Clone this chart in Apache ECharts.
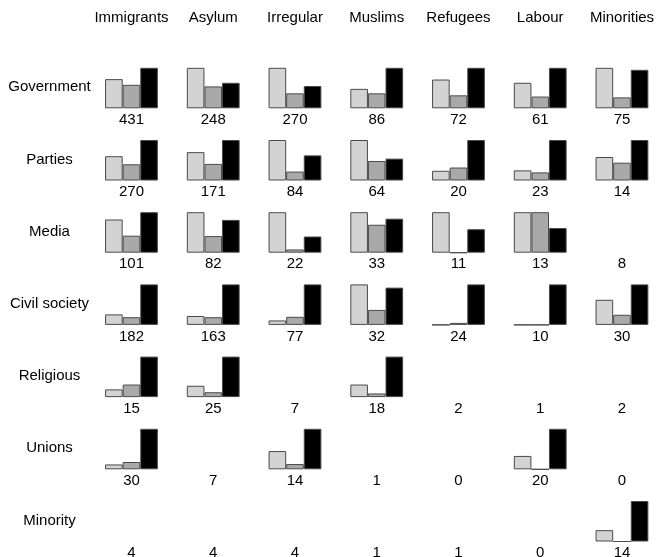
<!DOCTYPE html>
<html>
<head>
<meta charset="utf-8">
<script src="https://cdn.jsdelivr.net/npm/echarts@6/dist/echarts.min.js"></script>
<style>
html,body{margin:0;padding:0;background:#fff;}
#chart{width:658px;height:557px;}
</style>
</head>
<body>
<div id="chart"></div>
<script>
// Column topics and row actors
const topics = ['Immigrants', 'Asylum', 'Irregular', 'Muslims', 'Refugees', 'Labour', 'Minorities'];
const actors = ['Government', 'Parties', 'Media', 'Civil society', 'Religious', 'Unions', 'Minority'];

// Number of items per cell (row = actor, column = topic)
const counts = [
  [431, 248, 270, 86, 72, 61, 75],
  [270, 171, 84, 64, 20, 23, 14],
  [101, 82, 22, 33, 11, 13, 8],
  [182, 163, 77, 32, 24, 10, 30],
  [15, 25, 7, 18, 2, 1, 2],
  [30, 7, 14, 1, 0, 20, 0],
  [4, 4, 4, 1, 1, 0, 14]
];

// Relative bar heights per cell (tallest bar in a cell = 1); null = not drawn
const shareLight = [
  [0.72, 1, 1, 0.48, 0.71, 0.63, 1],
  [0.60, 0.70, 1, 1, 0.24, 0.25, 0.58],
  [0.82, 1, 1, 1, 1, 1, null],
  [0.26, 0.22, 0.11, 1, 0, 0, 0.62],
  [0.19, 0.28, null, 0.31, null, null, null],
  [0.12, null, 0.45, null, null, 0.33, null],
  [null, null, null, null, null, null, 0.28]
];
const shareMid = [
  [0.58, 0.54, 0.37, 0.37, 0.32, 0.29, 0.27],
  [0.40, 0.41, 0.22, 0.48, 0.32, 0.20, 0.44],
  [0.42, 0.41, 0.08, 0.69, 0, 1, null],
  [0.19, 0.19, 0.20, 0.37, 0.05, 0, 0.25],
  [0.31, 0.12, null, 0.09, null, null, null],
  [0.18, null, 0.13, null, null, 0, null],
  [null, null, null, null, null, null, 0]
];
const shareDark = [
  [1, 0.63, 0.55, 1, 1, 1, 0.95],
  [1, 1, 0.62, 0.54, 1, 1, 1],
  [1, 0.81, 0.40, 0.84, 0.58, 0.61, null],
  [1, 1, 1, 0.92, 1, 1, 1],
  [1, 1, null, 1, null, null, null],
  [1, null, 1, null, null, 1, null],
  [null, null, null, null, null, null, 1]
];

const FONT = 'Liberation Sans';
const gridLeft = 90.6, gridWidth = 572.25;
const firstBase = 108.3, rowStep = 72.2, barArea = 40.5;

const grids = [], xAxes = [], yAxes = [], series = [], graphics = [];
const fills = ['#d3d3d3', '#a9a9a9', '#000000'];
const sets = [shareLight, shareMid, shareDark];

actors.forEach((actor, r) => {
  const base = firstBase + rowStep * r;
  grids.push({left: gridLeft, width: gridWidth, top: base - barArea, height: barArea,
              containLabel: false, outerBoundsMode: 'none'});
  xAxes.push({
    type: 'category', gridIndex: r, data: topics,
    axisLine: {show: false}, axisTick: {show: false}, splitLine: {show: false},
    axisLabel: {
      margin: 4, fontFamily: FONT, fontSize: 15, color: '#000', interval: 0,
      formatter: (v, i) => String(counts[r][i])
    }
  });
  yAxes.push({type: 'value', gridIndex: r, min: 0, max: 1, show: false});
  sets.forEach((arr, k) => {
    series.push({
      type: 'bar', xAxisIndex: r, yAxisIndex: r,
      data: arr[r], barWidth: 17.6, barGap: '0%',
      itemStyle: {color: fills[k], borderColor: '#4a4a4a', borderWidth: 1},
      silent: true, animation: false
    });
  });
  graphics.push({
    type: 'text', x: 49.5, y: base - 21,
    style: {text: actor, fontFamily: FONT, fontSize: 15, fill: '#000', align: 'center', verticalAlign: 'middle'}
  });
});

// column titles on a top axis of the first row
xAxes.push({
  type: 'category', gridIndex: 0, position: 'top', data: topics,
  axisLine: {show: false}, axisTick: {show: false},
  axisLabel: {margin: 42, fontFamily: FONT, fontSize: 15, color: '#000', interval: 0}
});

const chart = echarts.init(document.getElementById('chart'), null, {renderer: 'canvas'});
chart.setOption({
  animation: false,
  grid: grids, xAxis: xAxes, yAxis: yAxes, series: series, graphic: graphics
});
</script>
</body>
</html>
